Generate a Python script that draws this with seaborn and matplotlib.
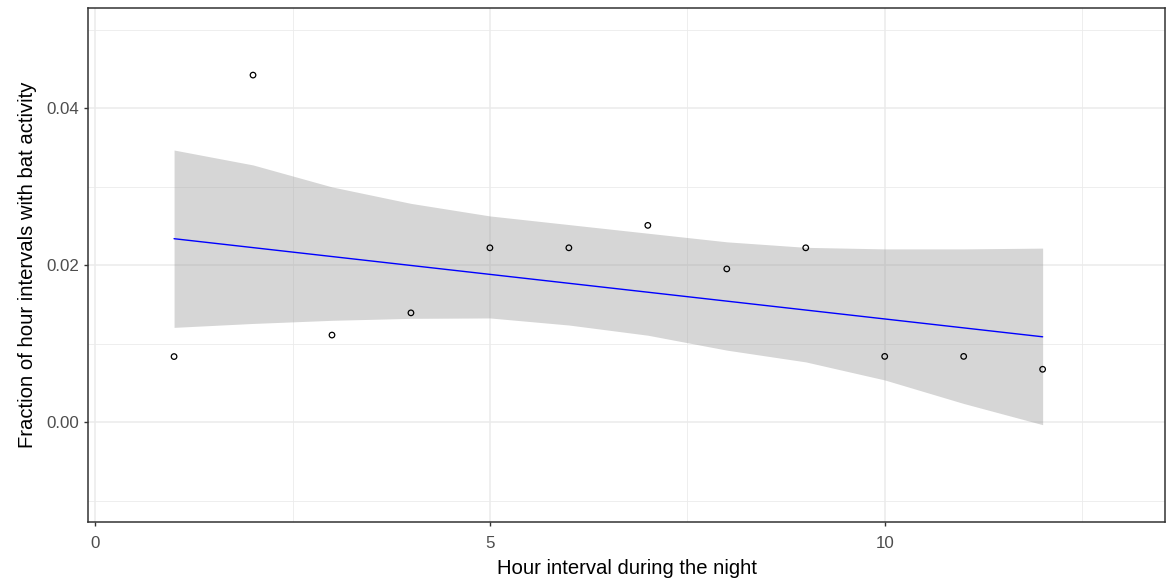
import pandas as pd
import seaborn as sns
import matplotlib.pyplot as plt
from matplotlib.ticker import FixedLocator, FormatStrFormatter

# values
hour = [1, 2, 3, 4, 5, 6, 7, 8, 9, 10, 11, 12]
fraction = [0.00838, 0.04425, 0.01112, 0.01395, 0.02224, 0.02224,
            0.02510, 0.01955, 0.02224, 0.00840, 0.00840, 0.00676]

# fitted line (lm) and its 95% band, as drawn in the reference
fit_hour = [1, 12]
fit_value = [0.0234, 0.0109]
band_upper = [0.0347, 0.0328, 0.0300, 0.0279, 0.0263, 0.0252,
              0.0241, 0.0230, 0.0223, 0.0221, 0.0221, 0.0222]
band_lower = [0.0121, 0.0126, 0.0130, 0.01325, 0.0133, 0.0124,
              0.0111, 0.0092, 0.0077, 0.0054, 0.0024, -0.0003]

df = pd.DataFrame({'hour': hour, 'fraction': fraction})
fit_df = pd.DataFrame({'hour': fit_hour, 'fraction': fit_value})

sns.set_style('white')
plt.rcParams['font.family'] = ['Liberation Sans', 'DejaVu Sans']

fig = plt.figure(figsize=(11.67, 5.84), dpi=100)
ax = fig.add_axes([0.0754, 0.1062, 0.9229, 0.8801])

ax.fill_between(hour, band_lower, band_upper,
                color='#999999', alpha=0.4, linewidth=0, zorder=2)

sns.scatterplot(data=df, x='hour', y='fraction', ax=ax, s=16,
                facecolors='none', edgecolor='black', linewidth=0.9, zorder=3)
sns.lineplot(data=fit_df, x='hour', y='fraction', ax=ax,
             color='blue', lw=1.0, zorder=4)

ax.set_xlim(-0.09, 13.55)
ax.set_ylim(-0.0127, 0.0528)

ax.xaxis.set_major_locator(FixedLocator([0, 5, 10]))
ax.xaxis.set_minor_locator(FixedLocator([2.5, 7.5, 12.5]))
ax.yaxis.set_major_locator(FixedLocator([0.0, 0.02, 0.04]))
ax.yaxis.set_minor_locator(FixedLocator([-0.01, 0.01, 0.03, 0.05]))
ax.yaxis.set_major_formatter(FormatStrFormatter('%.2f'))

ax.grid(which='major', color='#EBEBEB', lw=1.1, zorder=0)
ax.grid(which='minor', color='#EBEBEB', lw=0.6, zorder=0)
ax.set_axisbelow(True)

for sp in ax.spines.values():
    sp.set_color('#333333')
    sp.set_linewidth(1.1)

ax.tick_params(which='major', direction='out', length=3.2, width=1.0,
               color='#333333', labelcolor='#4D4D4D', labelsize=12.2)
ax.tick_params(axis='x', which='major', bottom=True, pad=7)
ax.tick_params(axis='y', which='major', left=True, pad=3)
ax.tick_params(which='minor', length=0)

ax.set_xlabel('Hour interval during the night', fontsize=14.6, color='black', labelpad=6)
ax.set_ylabel('Fraction of hour intervals with bat activity', fontsize=14.6,
              color='black', labelpad=7)

fig.savefig('out.png', dpi=100)
